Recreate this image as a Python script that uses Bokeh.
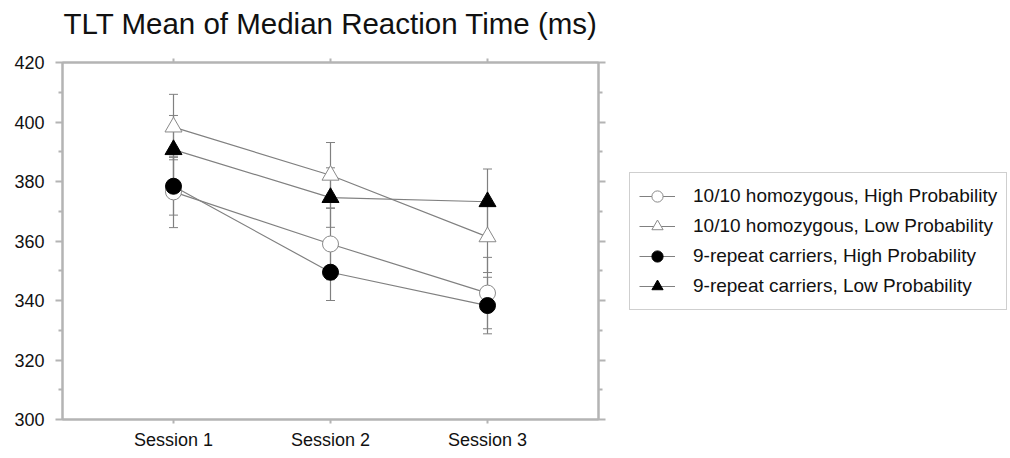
from bokeh.plotting import figure
from bokeh.layouts import row, column
from bokeh.models import (Range1d, LinearAxis, FixedTicker, Whisker, ColumnDataSource,
                          Legend, LegendItem)
from bokeh.core.properties import value
from bokeh.embed import file_html
from bokeh.resources import INLINE

title_text = "TLT Mean of Median Reaction Time (ms)"
sessions = [1, 2, 3]
session_labels = ["Session 1", "Session 2", "Session 3"]

names = ["10/10 homozygous, High Probability",
         "10/10 homozygous, Low Probability",
         "9-repeat carriers, High Probability",
         "9-repeat carriers, Low Probability"]
means = [
    [376.5, 359.0, 342.5],
    [398.3, 382.1, 361.4],
    [378.4, 349.5, 338.3],
    [390.7, 374.6, 373.2],
]
errors = [
    [12.0, 12.0, 12.0],
    [11.0, 11.0, 12.0],
    [9.7, 9.5, 9.5],
    [11.5, 10.0, 11.0],
]
markers = ["circle", "triangle", "circle", "triangle"]
fills = ["white", "white", "black", "black"]
outlines = ["#8a8a8a", "#8a8a8a", "black", "black"]
sizes = [16, 17, 16, 17]

FONT = "Liberation Sans"
FRAME = "#b4b4b4"
LINE = "#808080"

TOP_H = 50
MAIN_H = 402

# ---- title strip ----
t = figure(width=1010, height=TOP_H, output_backend="svg", toolbar_location=None,
           title=None, x_range=Range1d(0, 1010), y_range=Range1d(TOP_H, 0),
           x_axis_type=None, y_axis_type=None,
           min_border_left=0, min_border_right=0, min_border_top=0, min_border_bottom=0)
t.grid.visible = False
t.outline_line_color = None
t.background_fill_color = "white"
t.border_fill_color = "white"
t.text(x=[63], y=[23], text=[title_text], text_font=value(FONT),
       text_font_size="29.5px", text_color="#111111", text_baseline="alphabetic",
       text_align="left")

# ---- main plot ----
p = figure(width=610, height=MAIN_H, output_backend="svg", toolbar_location=None,
           title=None, x_range=Range1d(0.293, 3.707), y_range=Range1d(300, 420),
           min_border_left=62, min_border_right=12, min_border_top=12,
           min_border_bottom=32)
p.grid.visible = False
p.outline_line_color = FRAME
p.outline_line_width = 2
p.background_fill_color = "white"
p.border_fill_color = "white"

def style_axis(ax):
    ax.axis_line_color = FRAME
    ax.axis_line_width = 2
    ax.major_tick_line_color = FRAME
    ax.minor_tick_line_color = FRAME
    ax.major_tick_line_width = 2
    ax.minor_tick_line_width = 2
    ax.major_label_text_font = FONT
    ax.major_label_text_font_size = "18px"
    ax.major_label_text_color = "#111111"

yticks = [300, 320, 340, 360, 380, 400, 420]
yminor = [310, 330, 350, 370, 390, 410]

yl = p.yaxis[0]
yl.ticker = FixedTicker(ticks=yticks, minor_ticks=yminor)
style_axis(yl)
yl.major_tick_out = 7
yl.major_tick_in = 0
yl.minor_tick_out = 4
yl.minor_tick_in = 0
yl.major_label_standoff = 11

xb = p.xaxis[0]
xb.ticker = FixedTicker(ticks=sessions)
xb.major_label_overrides = {s: l for s, l in zip(sessions, session_labels)}
style_axis(xb)
xb.major_tick_out = 4
xb.major_tick_in = 0
xb.major_label_standoff = 6

yr = LinearAxis(ticker=FixedTicker(ticks=yticks, minor_ticks=yminor))
style_axis(yr)
yr.major_label_overrides = {tk: "" for tk in yticks}
yr.major_label_text_font_size = "1px"
yr.major_label_standoff = 0
yr.major_tick_out = 7
yr.major_tick_in = 0
yr.minor_tick_out = 4
yr.minor_tick_in = 0
p.add_layout(yr, "right")

xt = LinearAxis(ticker=FixedTicker(ticks=sessions))
style_axis(xt)
xt.major_label_overrides = {s: "" for s in sessions}
xt.major_tick_out = 4
xt.major_tick_in = 0
xt.major_label_text_font_size = "1px"
xt.major_label_standoff = 0
p.add_layout(xt, "above")

# ---- legend panel ----
q = figure(width=400, height=MAIN_H, output_backend="svg", toolbar_location=None,
           title=None, x_range=Range1d(0, 1), y_range=Range1d(0, 1),
           x_axis_type=None, y_axis_type=None,
           min_border_left=0, min_border_right=0, min_border_top=0,
           min_border_bottom=0)
q.grid.visible = False
q.outline_line_color = None
q.background_fill_color = "white"
q.border_fill_color = "white"

items = []
for i in range(4):
    src = ColumnDataSource(dict(x=sessions, y=means[i],
                                upper=[m + e for m, e in zip(means[i], errors[i])],
                                lower=[m - e for m, e in zip(means[i], errors[i])]))
    p.line("x", "y", source=src, line_color=LINE, line_width=1.2)
    w = Whisker(base="x", upper="upper", lower="lower", source=src,
                line_color=LINE, line_width=1.2)
    w.upper_head.size = 9
    w.lower_head.size = 9
    w.upper_head.line_color = LINE
    w.lower_head.line_color = LINE
    p.add_layout(w)
    p.scatter("x", "y", source=src, marker=markers[i], size=sizes[i],
              fill_color=fills[i], line_color=outlines[i], line_width=1)
    # legend proxies with identical styling, kept out of view
    lsrc = ColumnDataSource(dict(x=[-5.0, -4.0], y=[-5.0, -5.0]))
    ln = q.line("x", "y", source=lsrc, line_color=LINE, line_width=1.2)
    sc = q.scatter("x", "y", source=lsrc, marker=markers[i], size=sizes[i],
                   fill_color=fills[i], line_color=outlines[i], line_width=1)
    items.append(LegendItem(label=names[i], renderers=[ln, sc]))

legend = Legend(items=items, location=(19, 109))
legend.label_text_font = FONT
legend.label_text_font_size = "19px"
legend.label_text_color = "#111111"
legend.border_line_color = "#a0a0a0"
legend.border_line_width = 1.5
legend.background_fill_color = "white"
legend.glyph_width = 36
legend.glyph_height = 28
legend.label_height = 28
legend.label_standoff = 18
legend.spacing = 2
legend.padding = 9
legend.margin = 0
q.add_layout(legend, "center")

layout = column(t, row(p, q, spacing=0), spacing=0)
open("out.html", "w").write(file_html(layout, INLINE))
